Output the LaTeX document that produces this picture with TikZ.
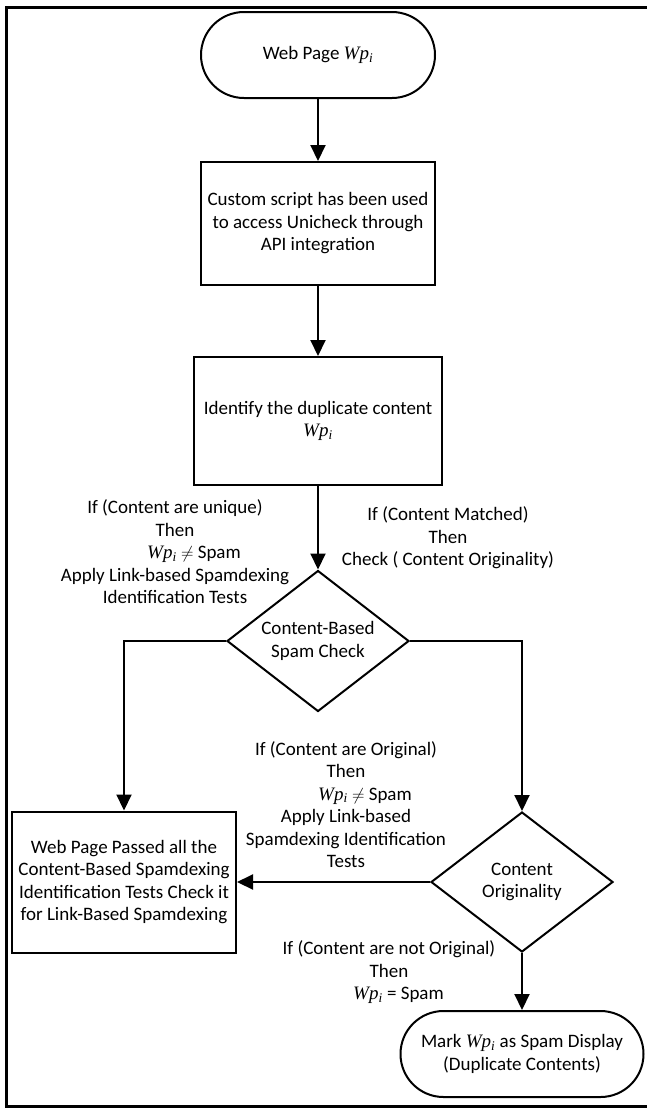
\documentclass[tikz,border=0pt]{standalone}
\usepackage{fontspec}
\setmainfont{Carlito}
\newfontfamily\tnr{Liberation Serif}
\usetikzlibrary{shapes.geometric,arrows.meta}
\newcommand\Wpi{{\tnr\itshape Wp\textsubscript{i}}}
\begin{document}
\begin{tikzpicture}[x=1pt,y=-1pt,
 every node/.style={font=\fontsize{19}{22.5}\selectfont, align=center},
 arr/.style={line width=2pt, -{Triangle[length=16pt,width=15pt]}},
 term/.style={draw, line width=2pt, rounded corners=43pt, minimum height=86pt, inner sep=0pt},
 procbox/.style={draw, line width=2pt, inner sep=0pt},
 decision/.style={draw, diamond, line width=2pt, inner sep=0pt, minimum width=182pt, minimum height=141pt, aspect=1.29},
 lbl/.style={inner sep=0pt}]
\useasboundingbox (0,0) rectangle (647,1109);
\draw[line width=3pt] (647,7) -- (6,7) -- (6,1106) -- (647,1106);

\node[term, minimum width=234pt] (start) at (318,55) {Web Page \Wpi};
\node[procbox, minimum width=234pt, minimum height=123pt] (b1) at (318,223.5) {Custom script has been used\\to access Unicheck through\\API integration};
\node[procbox, minimum width=248pt, minimum height=128pt] (b2) at (318,421) {Identify the duplicate content\\\Wpi};
\node[decision] (d1) at (318,641) {Content-Based\\Spam Check};
\node[procbox, minimum width=224pt, minimum height=141pt] (b3) at (124,882) {Web Page Passed all the\\Content-Based Spamdexing\\Identification Tests Check it\\for Link-Based Spamdexing};
\node[decision, minimum height=140pt] (d2) at (522,882) {Content\\Originality};
\node[term, minimum width=243pt] (end) at (522,1054) {Mark \Wpi{} as Spam Display\\(Duplicate Contents)};

\node[lbl] (l1) at (175,552) {If (Content are unique)\\Then\\\hspace*{2em}\Wpi\ $\neq$\ Spam\\Apply Link-based Spamdexing\\Identification Tests};
\node[lbl] (l2) at (448,538) {If (Content Matched)\\Then\\Check ( Content Originality)};
\node[lbl] (l3) at (346,804.5) {If (Content are Original)\\Then\\\hspace*{2em}\Wpi\ $\neq$\ Spam\\Apply Link-based\\Spamdexing Identification\\Tests};
\node[lbl] (l4) at (389,972.5) {If (Content are not Original)\\Then\\\hspace*{1em}\Wpi\ = Spam};

\draw[arr] (start) -- (b1);
\draw[arr] (b1) -- (b2);
\draw[arr] (b2) -- (d1);
\draw[arr] (d1.west) -| (b3.north);
\draw[arr] (d1.east) -| (d2.north);
\draw[arr] (d2.west) -- (b3.east);
\draw[arr] (d2) -- (end);
\end{tikzpicture}
\end{document}
